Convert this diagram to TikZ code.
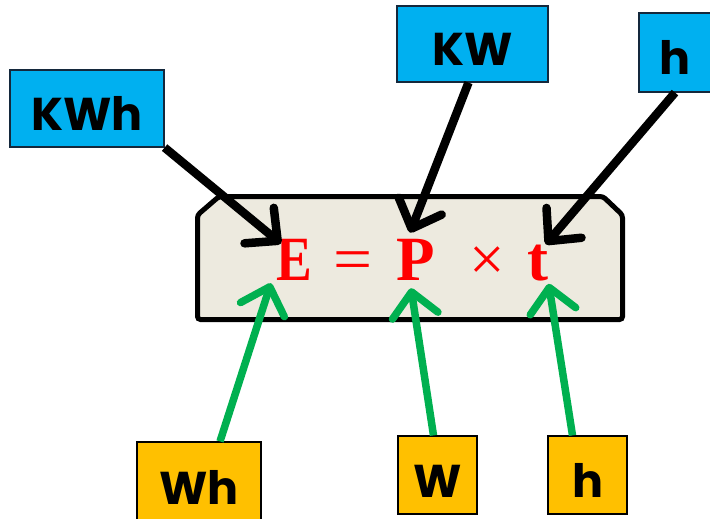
\documentclass[tikz,border=0pt]{standalone}
\usepackage{fontspec}
\usepackage{graphicx}
\newfontfamily\labfont{Poppins}
\newfontfamily\eqfont{Liberation Serif}
\usetikzlibrary{arrows.meta,calc,shadows}
\definecolor{boxblue}{RGB}{0,176,240}
\definecolor{boxorange}{RGB}{255,192,0}
\definecolor{arrgreen}{RGB}{0,176,80}
\definecolor{panel}{RGB}{237,234,223}
\definecolor{bluedge}{RGB}{20,40,60}
\begin{document}
\begin{tikzpicture}[x=1pt,y=-1pt,
 lab/.style={inner sep=0pt, font=\labfont\bfseries\fontsize{46}{46}\selectfont, text height=44pt, text depth=0pt, line width=1.2pt},
 bluebox/.style={lab, draw=bluedge, fill=boxblue},
 orangebox/.style={lab, draw=black, fill=boxorange},
 sym/.style={inner sep=0pt, anchor=base, text=red, font=\eqfont\fontsize{63}{63}\selectfont},
 bsym/.style={sym, font=\eqfont\bfseries\fontsize{63}{63}\selectfont},
 blackarr/.style={line width=8.5pt, -{Straight Barb[length=24pt,width=46pt,round]}},
 greenarr/.style={blackarr, draw=arrgreen, line width=7.5pt},
]
\useasboundingbox (0,0) rectangle (710,519);
\draw[line width=5pt, fill=panel, rounded corners=3pt,
  drop shadow={shadow xshift=2pt,shadow yshift=-2pt,opacity=0.3}]
  (197.5,215) -- (219,196.5) -- (603,196.5) -- (622.5,215) -- (622.5,319.5) -- (197.5,319.5) -- cycle;
\node[bsym] (E) at (294,280) {\scalebox{0.85}[1]{E}};
\node[sym] (eq) at (353,280) {\scalebox{1.1}[1]{=}};
\node[bsym] (P) at (416,280) {P};
\node[sym] (x) at (487,280) {×};
\node[bsym] (t) at (538,280) {t};
\node[bluebox, minimum width=154pt, minimum height=77pt] (KWh) at (87,108.5) {KWh};
\node[bluebox, minimum width=151pt, minimum height=76pt] (KW) at (472.5,44) {KW};
\node[bluebox, minimum width=72pt, minimum height=79pt] (hT) at (675,52.5) {h};
\node[orangebox, minimum width=124pt, minimum height=80pt] (Wh) at (199,482) {Wh};
\node[orangebox, minimum width=79pt, minimum height=78pt] (W) at (437.5,475) {W};
\node[orangebox, minimum width=79pt, minimum height=78pt] (hB) at (587.5,475) {h};
\draw[blackarr] (KWh.south east) -- ($(E.north west)+(5,5)$);
\draw[blackarr] ($(KW.south)+(-4,0)$) -- ($(P.north)+(-6,-6)$);
\draw[blackarr] (hT.south) -- ($(t.north east)+(-3,0)$);
\draw[greenarr] ($(Wh.north)+(21,0)$) -- ($(E.south west)+(-5,3)$);
\draw[greenarr] ($(W.north)+(-4,0)$) -- ($(P.south)+(-5,8)$);
\draw[greenarr] ($(hB.north)+(-15,0)$) -- ($(t.south east)+(0,3)$);
\end{tikzpicture}
\end{document}
